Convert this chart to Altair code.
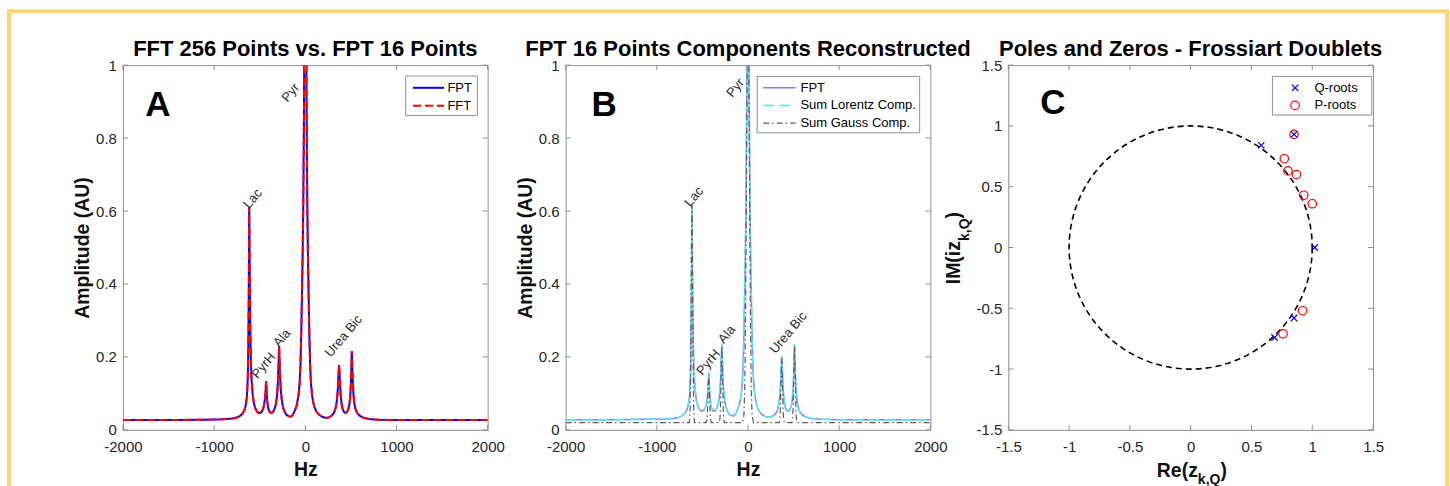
import altair as alt
import pandas as pd

# ---------------- data ----------------
# common frequency grid (Hz) for panels A and B
hz = [-2000, -1500, -1100, -900, -800, -750, -715, -690, -672, -660,
      -650, -642, -636, -630, -625, -620, -617, -615, -613, -610,
      -605, -598, -590, -578, -565, -550, -530, -510, -490, -472,
      -460, -450, -443, -437, -433, -430, -427, -422, -415, -405,
      -390, -372, -355, -340, -325, -314, -305, -298, -292, -287,
      -282, -276, -268, -258, -245, -228, -205, -180, -160, -140,
      -120, -95, -75, -62, -53, -44, -36, -29, -22, -15,
      -8, 0, 8, 15, 22, 29, 36, 44, 53, 62,
      75, 95, 120, 150, 185, 220, 255, 285, 310, 328,
      342, 352, 360, 366, 370, 375, 381, 389, 399, 411,
      427, 443, 459, 473, 485, 493, 499, 505, 510, 514,
      520, 528, 538, 552, 570, 600, 640, 700, 800, 1000,
      1500, 2000]

# panel A: FPT (16 points) and FFT (256 points) coincide
fpt_a = [0.027, 0.027, 0.028, 0.029, 0.031, 0.034, 0.038, 0.044, 0.052, 0.060,
         0.072, 0.088, 0.110, 0.150, 0.220, 0.360, 0.500, 0.610, 0.550, 0.440,
         0.310, 0.200, 0.140, 0.100, 0.075, 0.060, 0.050, 0.046, 0.047, 0.052,
         0.060, 0.072, 0.085, 0.100, 0.120, 0.134, 0.120, 0.095, 0.073, 0.058,
         0.049, 0.046, 0.049, 0.056, 0.068, 0.085, 0.110, 0.145, 0.190, 0.230,
         0.190, 0.145, 0.108, 0.082, 0.063, 0.050, 0.041, 0.037, 0.036, 0.040,
         0.050, 0.066, 0.093, 0.128, 0.178, 0.268, 0.378, 0.478, 0.618, 0.850,
         1.200, 1.450, 1.200, 0.850, 0.618, 0.478, 0.378, 0.268, 0.178, 0.128,
         0.093, 0.066, 0.051, 0.042, 0.036, 0.033, 0.034, 0.038, 0.045, 0.055,
         0.072, 0.095, 0.125, 0.158, 0.178, 0.160, 0.125, 0.092, 0.070, 0.056,
         0.048, 0.046, 0.050, 0.058, 0.072, 0.092, 0.120, 0.165, 0.216, 0.182,
         0.135, 0.098, 0.072, 0.056, 0.046, 0.038, 0.033, 0.030, 0.028, 0.027,
         0.027, 0.027]
fft_a = [0.027, 0.027, 0.028, 0.029, 0.031, 0.034, 0.038, 0.044, 0.052, 0.060,
         0.072, 0.088, 0.110, 0.150, 0.220, 0.360, 0.500, 0.610, 0.550, 0.440,
         0.310, 0.200, 0.140, 0.100, 0.075, 0.060, 0.050, 0.046, 0.047, 0.052,
         0.060, 0.072, 0.085, 0.100, 0.120, 0.134, 0.120, 0.095, 0.073, 0.058,
         0.049, 0.046, 0.049, 0.056, 0.068, 0.085, 0.110, 0.145, 0.190, 0.230,
         0.190, 0.145, 0.108, 0.082, 0.063, 0.050, 0.041, 0.037, 0.036, 0.040,
         0.050, 0.066, 0.093, 0.128, 0.178, 0.268, 0.378, 0.478, 0.618, 0.850,
         1.200, 1.450, 1.200, 0.850, 0.618, 0.478, 0.378, 0.268, 0.178, 0.128,
         0.093, 0.066, 0.051, 0.042, 0.036, 0.033, 0.034, 0.038, 0.045, 0.055,
         0.072, 0.095, 0.125, 0.158, 0.178, 0.160, 0.125, 0.092, 0.070, 0.056,
         0.048, 0.046, 0.050, 0.058, 0.072, 0.092, 0.120, 0.165, 0.216, 0.182,
         0.135, 0.098, 0.072, 0.056, 0.046, 0.038, 0.033, 0.030, 0.028, 0.027,
         0.027, 0.027]

# panel B: FPT and the sum of Lorentzian components (coincide)
fpt_b = [0.028, 0.028, 0.029, 0.030, 0.032, 0.035, 0.040, 0.046, 0.054, 0.063,
         0.075, 0.090, 0.115, 0.155, 0.230, 0.370, 0.510, 0.620, 0.560, 0.450,
         0.320, 0.210, 0.145, 0.105, 0.080, 0.065, 0.055, 0.052, 0.053, 0.058,
         0.067, 0.080, 0.095, 0.115, 0.138, 0.157, 0.138, 0.108, 0.082, 0.064,
         0.054, 0.051, 0.053, 0.060, 0.072, 0.090, 0.115, 0.150, 0.195, 0.235,
         0.195, 0.150, 0.112, 0.085, 0.066, 0.052, 0.043, 0.039, 0.038, 0.042,
         0.052, 0.068, 0.095, 0.130, 0.180, 0.270, 0.380, 0.480, 0.620, 0.850,
         1.150, 1.350, 1.150, 0.850, 0.620, 0.480, 0.380, 0.270, 0.180, 0.130,
         0.095, 0.068, 0.052, 0.043, 0.037, 0.035, 0.036, 0.040, 0.047, 0.058,
         0.076, 0.100, 0.135, 0.175, 0.203, 0.178, 0.140, 0.100, 0.075, 0.060,
         0.053, 0.051, 0.055, 0.064, 0.080, 0.103, 0.135, 0.185, 0.235, 0.195,
         0.145, 0.105, 0.078, 0.060, 0.049, 0.040, 0.035, 0.031, 0.029, 0.028,
         0.028, 0.028]
lorentz_b = [0.028, 0.028, 0.029, 0.030, 0.032, 0.035, 0.040, 0.046, 0.054, 0.063,
             0.075, 0.090, 0.115, 0.155, 0.230, 0.370, 0.510, 0.620, 0.560, 0.450,
             0.320, 0.210, 0.145, 0.105, 0.080, 0.065, 0.055, 0.052, 0.053, 0.058,
             0.067, 0.080, 0.095, 0.115, 0.138, 0.157, 0.138, 0.108, 0.082, 0.064,
             0.054, 0.051, 0.053, 0.060, 0.072, 0.090, 0.115, 0.150, 0.195, 0.235,
             0.195, 0.150, 0.112, 0.085, 0.066, 0.052, 0.043, 0.039, 0.038, 0.042,
             0.052, 0.068, 0.095, 0.130, 0.180, 0.270, 0.380, 0.480, 0.620, 0.850,
             1.150, 1.350, 1.150, 0.850, 0.620, 0.480, 0.380, 0.270, 0.180, 0.130,
             0.095, 0.068, 0.052, 0.043, 0.037, 0.035, 0.036, 0.040, 0.047, 0.058,
             0.076, 0.100, 0.135, 0.175, 0.203, 0.178, 0.140, 0.100, 0.075, 0.060,
             0.053, 0.051, 0.055, 0.064, 0.080, 0.103, 0.135, 0.185, 0.235, 0.195,
             0.145, 0.105, 0.078, 0.060, 0.049, 0.040, 0.035, 0.031, 0.029, 0.028,
             0.028, 0.028]

# panel B: sum of Gaussian components
gauss_hz = [-2000, -643, -635, -630, -625, -620, -615, -610, -605, -600,
            -595, -587, -458, -450, -445, -440, -435, -430, -425, -420,
            -415, -410, -402, -315, -307, -302, -297, -292, -287, -282,
            -277, -272, -267, -259, -60, -45, -35, -25, -15, -8,
            0, 8, 15, 25, 35, 45, 60, 342, 350, 355,
            360, 365, 370, 375, 380, 385, 390, 398, 482, 490,
            495, 500, 505, 510, 515, 520, 525, 530, 538, 2000]
gauss_b = [0.020, 0.020, 0.055, 0.140, 0.320, 0.525, 0.615, 0.525, 0.320, 0.140,
           0.055, 0.020, 0.020, 0.028, 0.046, 0.085, 0.130, 0.150, 0.130, 0.085,
           0.046, 0.028, 0.020, 0.020, 0.032, 0.062, 0.125, 0.195, 0.230, 0.195,
           0.125, 0.062, 0.032, 0.020, 0.020, 0.040, 0.120, 0.350, 0.750, 1.050,
           1.200, 1.050, 0.750, 0.350, 0.120, 0.040, 0.020, 0.020, 0.030, 0.055,
           0.105, 0.165, 0.195, 0.165, 0.105, 0.055, 0.030, 0.020, 0.020, 0.032,
           0.060, 0.120, 0.190, 0.228, 0.190, 0.120, 0.060, 0.032, 0.020, 0.020]

# peak annotations
peak_labels = ["Lac", "Pyr", "PyrH", "Ala", "Urea Bic"]
label_hz_a = [-616, -195, -524, -287, 279]
label_amp_a = [0.605, 0.897, 0.139, 0.225, 0.198]
label_hz_b = [-632, -173, -502, -265, 301]
label_amp_b = [0.610, 0.910, 0.148, 0.235, 0.207]

# panel C: roots (real, imaginary)
q_re = [0.58, 0.85, 1.02, 0.85, 0.69]
q_im = [0.84, 0.93, 0.00, -0.58, -0.74]
p_re = [0.85, 0.77, 0.80, 0.87, 0.93, 1.00, 0.92, 0.76]
p_im = [0.93, 0.73, 0.63, 0.60, 0.43, 0.36, -0.52, -0.71]

# tick values
hz_ticks = [-2000, -1000, 0, 1000, 2000]
amp_ticks = [0, 0.2, 0.4, 0.6, 0.8, 1]
z_ticks = [-1.5, -1, -0.5, 0, 0.5, 1, 1.5]

# texts
titles = ["FFT 256 Points vs. FPT 16 Points",
          "FPT 16 Points Components Reconstructed",
          "Poles and Zeros - Frossiart Doublets"]
panel_letters = ["A", "B", "C"]
legend_a = ["FPT", "FFT"]
legend_b = ["FPT", "Sum Lorentz Comp.", "Sum Gauss Comp."]
legend_c = ["Q-roots", "P-roots"]

# ---------------- styling ----------------
W = H = 365
FONT = "Liberation Sans"
FRAME = "#8f8f8f"
LABEL = "#262626"
BORDER = "#FCD576"
TICK = 5
one = pd.DataFrame({"k": [0]})

AX = dict(labelFont=FONT, labelFontSize=15, labelColor=LABEL, labelFlush=False,
          labelOverlap=False, labelExpr="'' + datum.value", domain=False,
          ticks=False, tickSize=0, grid=False, titleFont=FONT, titleFontSize=19.5,
          titleFontWeight="bold", titleColor="#111111")


def axes(xtitle, ytitle, xvals, yvals):
    ax = alt.Axis(values=xvals, title=xtitle, labelPadding=10, titlePadding=6, **AX)
    ay = alt.Axis(values=yvals, title=ytitle, labelPadding=6.5, titlePadding=3, **AX)
    return ax, ay


def frame_ticks(xf, xvals, yf, yvals, X, Y):
    dx = pd.DataFrame({xf: xvals})
    dy = pd.DataFrame({yf: yvals})
    st = dict(color=FRAME, strokeWidth=1)
    return [
        alt.Chart(dx).mark_rule(**st).encode(x=X, y=alt.value(H), y2=alt.value(H - TICK)),
        alt.Chart(dx).mark_rule(**st).encode(x=X, y=alt.value(0), y2=alt.value(TICK)),
        alt.Chart(dy).mark_rule(**st).encode(y=Y, x=alt.value(0), x2=alt.value(TICK)),
        alt.Chart(dy).mark_rule(**st).encode(y=Y, x=alt.value(W), x2=alt.value(W - TICK)),
    ]


def title_text(t):
    return alt.Chart(one).mark_text(text=t, font=FONT, fontSize=22, fontWeight="bold",
                                    align="center", baseline="alphabetic", color="black"
                                    ).encode(x=alt.value(W / 2), y=alt.value(-9))


def legend_box(x0, x1, y0, y1):
    return alt.Chart(one).mark_rect(fill="white", stroke=FRAME, strokeWidth=1).encode(
        x=alt.value(x0), x2=alt.value(x1), y=alt.value(y0), y2=alt.value(y1))


def legend_text(t, x, y):
    return alt.Chart(one).mark_text(text=t, font=FONT, fontSize=13, align="left",
                                    baseline="middle", color="black"
                                    ).encode(x=alt.value(x), y=alt.value(y))


def legend_line(x0, x1, y, color, width, dash):
    kw = dict(color=color, strokeWidth=width)
    if dash:
        kw["strokeDash"] = dash
    return alt.Chart(one).mark_rule(**kw).encode(x=alt.value(x0), x2=alt.value(x1), y=alt.value(y))


def line_layer(df, xf, yf, X, Ysc, ay, color, width, dash):
    kw = dict(color=color, strokeWidth=width, clip=True)
    if dash:
        kw["strokeDash"] = dash
    return alt.Chart(df).mark_line(**kw).encode(
        x=X, y=alt.Y(f"{yf}:Q", scale=Ysc, axis=ay), order=alt.Order(f"{xf}:Q"))


def peak_text(hzs, amps, X, Y):
    d = pd.DataFrame({"hz": hzs, "amp": amps, "lab": peak_labels})
    return alt.Chart(d).mark_text(font=FONT, fontSize=13, angle=310, align="left",
                                  baseline="alphabetic", color=LABEL
                                  ).encode(x=X, y=Y, text="lab:N")


def letter(t, xv, yv, X, Y, xf, yf):
    d = pd.DataFrame({xf: [xv], yf: [yv], "t": [t]})
    return alt.Chart(d).mark_text(font=FONT, fontSize=35, fontWeight="bold", align="left",
                                  baseline="alphabetic", color="black"
                                  ).encode(x=X, y=Y, text="t:N")


xs_hz = alt.Scale(domain=[-2000, 2000], nice=False, zero=False)
ys_amp = alt.Scale(domain=[0, 1], nice=False, zero=False)

# ---------------- panel A ----------------
axA, ayA = axes("Hz", "Amplitude (AU)", hz_ticks, amp_ticks)
XA = alt.X("hz:Q", scale=xs_hz, axis=axA)
YA = alt.Y("amp:Q", scale=ys_amp, axis=ayA)
dfA = pd.DataFrame({"hz": hz, "fpt": fpt_a, "fft": fft_a})

border = alt.Chart(one).mark_rect(fillOpacity=0, stroke=BORDER, strokeWidth=4).encode(
    x=alt.value(-114), x2=alt.value(1325), y=alt.value(-54), y2=alt.value(430))

layersA = [border]
layersA += [
    line_layer(dfA, "hz", "fpt", XA, ys_amp, ayA, "#0000ff", 2, None),
    line_layer(dfA, "hz", "fft", XA, ys_amp, ayA, "#ff0000", 2, [8, 4]),
]
layersA += frame_ticks("hz", hz_ticks, "amp", amp_ticks, XA, YA)
layersA += [
    peak_text(label_hz_a, label_amp_a, XA, YA),
    letter(panel_letters[0], -1755, 0.86, XA, YA, "hz", "amp"),
    title_text(titles[0]),
    legend_box(283, 354.7, 11, 50.3),
    legend_line(290.3, 321.3, 22.7, "#0000ff", 2, None),
    legend_line(290.3, 321.3, 40.7, "#ff0000", 2, [8, 4]),
    legend_text(legend_a[0], 324.7, 22.7),
    legend_text(legend_a[1], 324.7, 40.7),
]
panelA = alt.layer(*layersA).properties(width=W, height=H)

# ---------------- panel B ----------------
axB, ayB = axes("Hz", "Amplitude (AU)", hz_ticks, amp_ticks)
XB = alt.X("hz:Q", scale=xs_hz, axis=axB)
YB = alt.Y("amp:Q", scale=ys_amp, axis=ayB)
dfB = pd.DataFrame({"hz": hz, "fpt": fpt_b, "lor": lorentz_b})
dfG = pd.DataFrame({"hz": gauss_hz, "gau": gauss_b})

FPT_B = "#7f7fff"
LOR_B = "#55e6f2"
GAU_B = "#5c5c5c"
layersB = [
    line_layer(dfB, "hz", "fpt", XB, ys_amp, ayB, FPT_B, 1.5, None),
    line_layer(dfB, "hz", "lor", XB, ys_amp, ayB, LOR_B, 1.5, [11, 5]),
    line_layer(dfG, "hz", "gau", XB, ys_amp, ayB, GAU_B, 1.2, [6, 3, 1.5, 3]),
]
layersB += frame_ticks("hz", hz_ticks, "amp", amp_ticks, XB, YB)
layersB += [
    peak_text(label_hz_b, label_amp_b, XB, YB),
    letter(panel_letters[1], -1717, 0.86, XB, YB, "hz", "amp"),
    title_text(titles[1]),
    legend_box(191.7, 354.3, 11.3, 67.7),
    legend_line(197.7, 230, 22.7, FPT_B, 1.5, None),
    legend_line(197.7, 230, 40.3, LOR_B, 1.5, [11, 5]),
    legend_line(197.7, 230, 58, GAU_B, 1.2, [6, 3, 1.5, 3]),
    legend_text(legend_b[0], 235, 22.7),
    legend_text(legend_b[1], 235, 40.3),
    legend_text(legend_b[2], 235, 58),
]
panelB = alt.layer(*layersB).properties(width=W, height=H)

# ---------------- panel C ----------------
zs = alt.Scale(domain=[-1.5, 1.5], nice=False, zero=False)
axC, ayC = axes(None, None, z_ticks, z_ticks)
XC = alt.X("re:Q", scale=zs, axis=axC)
YC = alt.Y("im:Q", scale=zs, axis=ayC)
XSHAPE = "M-1,-1L1,1M-1,1L1,-1"
dfQ = pd.DataFrame({"re": q_re, "im": q_im})
dfP = pd.DataFrame({"re": p_re, "im": p_im})
dfO = pd.DataFrame({"re": [0], "im": [0]})
unit_px = W / 3.0  # pixels per unit on the z-plane axes

layersC = [
    alt.Chart(dfO).mark_point(shape="circle", size=(2 * unit_px) ** 2, filled=False,
                              color="black", strokeWidth=1.6, strokeDash=[6, 4],
                              opacity=1).encode(x=XC, y=YC),
    alt.Chart(dfP).mark_point(shape="circle", size=72, filled=False, color="#ff0000",
                              strokeWidth=1.2, opacity=1).encode(x=XC, y=YC),
    alt.Chart(dfQ).mark_point(shape=XSHAPE, size=42, filled=False, color="#0000ff",
                              strokeWidth=1.2, opacity=1).encode(x=XC, y=YC),
]
layersC += frame_ticks("re", z_ticks, "im", z_ticks, XC, YC)
layersC += [
    letter(panel_letters[2], -1.237, 1.095, XC, YC, "re", "im"),
    title_text(titles[2]),
    legend_box(264.3, 363.7, 11.3, 50),
    alt.Chart(one).mark_point(shape=XSHAPE, size=42, filled=False, color="#0000ff",
                              strokeWidth=1.2, opacity=1).encode(x=alt.value(287), y=alt.value(22.7)),
    alt.Chart(one).mark_point(shape="circle", size=72, filled=False, color="#ff0000",
                              strokeWidth=1.2, opacity=1).encode(x=alt.value(287), y=alt.value(40.3)),
    legend_text(legend_c[0], 306.3, 22.7),
    legend_text(legend_c[1], 306.3, 40.3),
]
# axis titles with subscripts: Re(z_{k,Q}) and IM(iz_{k,Q})
big = dict(font=FONT, fontSize=19.5, fontWeight="bold", color="#111111", baseline="alphabetic")
sub = dict(font=FONT, fontSize=14, fontWeight="bold", color="#111111", baseline="alphabetic")
layersC += [
    alt.Chart(one).mark_text(text="Re(z", align="right", **big).encode(x=alt.value(189.7), y=alt.value(412)),
    alt.Chart(one).mark_text(text="k,Q", align="left", **sub).encode(x=alt.value(189.7), y=alt.value(419)),
    alt.Chart(one).mark_text(text=")", align="left", **big).encode(x=alt.value(212.3), y=alt.value(412)),
    alt.Chart(one).mark_text(text="IM(iz", align="left", angle=270, **big).encode(x=alt.value(-48), y=alt.value(219.3)),
    alt.Chart(one).mark_text(text="k,Q", align="left", angle=270, **sub).encode(x=alt.value(-39), y=alt.value(176)),
    alt.Chart(one).mark_text(text=")", align="left", angle=270, **big).encode(x=alt.value(-48), y=alt.value(153.4)),
]
panelC = alt.layer(*layersC).properties(width=W, height=H)

chart = alt.hconcat(panelA, panelB, panelC, spacing=78, bounds="flush").properties(
    padding={"left": 6, "top": 8, "right": 0, "bottom": 0},
    background="white",
).configure_view(stroke=FRAME, strokeWidth=1)

chart.save("out.html", embed_options={"renderer": "svg", "actions": False})
